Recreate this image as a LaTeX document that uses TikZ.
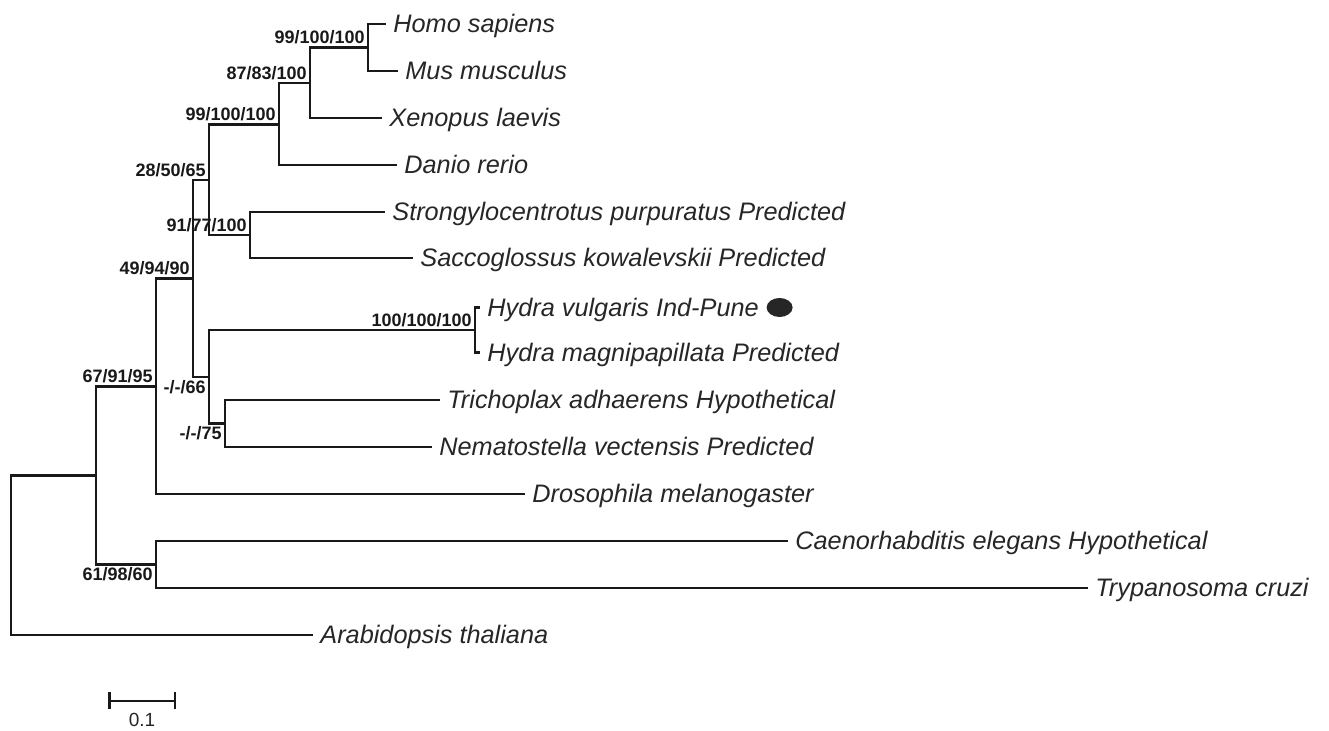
\documentclass[tikz,border=0pt]{standalone}
\usepackage{fontspec}
\setmainfont{Liberation Sans}
\usepackage{tikz}
\usetikzlibrary{arrows.meta, positioning, shapes.geometric}

\begin{document}
\begin{tikzpicture}[
    x=0.5pt, y=-0.5pt,
    branch/.style={line width=1.25pt, draw=black!90},
    leaf/.style={anchor=west, inner xsep=3.5pt, inner ysep=0pt, text height=9pt, text depth=0pt, text=black!85, font=\fontsize{12.65}{15}\selectfont\itshape},
    boot/.style={inner sep=1.5pt, text=black!90, font=\fontsize{9}{11}\selectfont\bfseries},
    scalebar/.style={line width=1.25pt, draw=black!90, {Bar[width=8.5pt]}-{Bar[width=8.5pt]}}
]
\useasboundingbox (0,0) rectangle (1329,731);

% Leaves - one row per species, line end at the west anchor
\node[leaf] (homo) at (386,24) {Homo sapiens};
\node[leaf] (mus) at (398,71) {Mus musculus};
\node[leaf] (xen) at (382,118) {Xenopus laevis};
\node[leaf] (danio) at (397,165) {Danio rerio};
\node[leaf] (strong) at (385,212) {Strongylocentrotus purpuratus Predicted};
\node[leaf] (sacc) at (413,258) {Saccoglossus kowalevskii Predicted};
\node[leaf] (hvul) at (480,307.5) {Hydra vulgaris Ind-Pune};
\node[leaf] (hmag) at (480,352.5) {Hydra magnipapillata Predicted};
\node[leaf] (trich) at (440,400) {Trichoplax adhaerens Hypothetical};
\node[leaf] (nema) at (432,447) {Nematostella vectensis Predicted};
\node[leaf] (dros) at (525,494) {Drosophila melanogaster};
\node[leaf] (caen) at (788,541) {Caenorhabditis elegans Hypothetical};
\node[leaf] (tryp) at (1088,588) {Trypanosoma cruzi};
\node[leaf] (arab) at (313,635) {Arabidopsis thaliana};
\node[ellipse, fill=black!85, minimum width=13pt, minimum height=9.5pt, inner sep=0pt, right=0pt of hvul] (mark) {};

% Internal nodes of the tree
\coordinate (hm) at (368,47.5);
\coordinate (hmx) at (310,83);
\coordinate (vert) at (279,124.5);
\coordinate (echi) at (250,235);
\coordinate (deut) at (209,180);
\coordinate (hyd) at (475,330);
\coordinate (tn) at (225,423.5);
\coordinate (cnid) at (209,377);
\coordinate (metaz) at (193,278.5);
\coordinate (bilat) at (156,386.5);
\coordinate (ct) at (156,564.5);
\coordinate (anim) at (96,475.5);
\coordinate (root) at (11,555);

% Branches
\draw[branch] (hm) |- (homo.west) (hm) |- (mus.west);
\draw[branch] (hmx) |- (hm) (hmx) |- (xen.west);
\draw[branch] (vert) |- (hmx) (vert) |- (danio.west);
\draw[branch] (echi) |- (strong.west) (echi) |- (sacc.west);
\draw[branch] (deut) |- (vert) (deut) |- (echi);
\draw[branch] (hyd) |- (hvul.west) (hyd) |- (hmag.west);
\draw[branch] (tn) |- (trich.west) (tn) |- (nema.west);
\draw[branch] (cnid) |- (hyd) (cnid) |- (tn);
\draw[branch] (metaz) |- (deut) (metaz) |- (cnid);
\draw[branch] (bilat) |- (metaz) (bilat) |- (dros.west);
\draw[branch] (ct) |- (caen.west) (ct) |- (tryp.west);
\draw[branch] (anim) |- (bilat) (anim) |- (ct);
\draw[branch] (root) |- (anim) (root) |- (arab.west);

% Bootstrap values
\node[boot, anchor=south east] (bhm) at (hm) {99/100/100};
\node[boot, anchor=south east] (bhmx) at (hmx) {87/83/100};
\node[boot, anchor=south east] (bvert) at (vert) {99/100/100};
\node[boot, anchor=south east] (bechi) at (echi) {91/77/100};
\node[boot, anchor=south east] (bdeut) at (deut) {28/50/65};
\node[boot, anchor=south east] (bhyd) at (hyd) {100/100/100};
\node[boot, anchor=north east] (btn) at (tn) {-/-/75};
\node[boot, anchor=north east] (bcnid) at (cnid) {-/-/66};
\node[boot, anchor=south east] (bmetaz) at (metaz) {49/94/90};
\node[boot, anchor=south east] (bbilat) at (bilat) {67/91/95};
\node[boot, anchor=north east] (bct) at (ct) {61/98/60};

% Scale bar
\coordinate (sbl) at (108,701);
\coordinate (sbr) at (176,701);
\draw[scalebar] (sbl) -- node[below=4.5pt, inner sep=1pt, text=black!85, font=\fontsize{9.5}{11}\selectfont] (sblabel) {0.1} (sbr);

\end{tikzpicture}
\end{document}
